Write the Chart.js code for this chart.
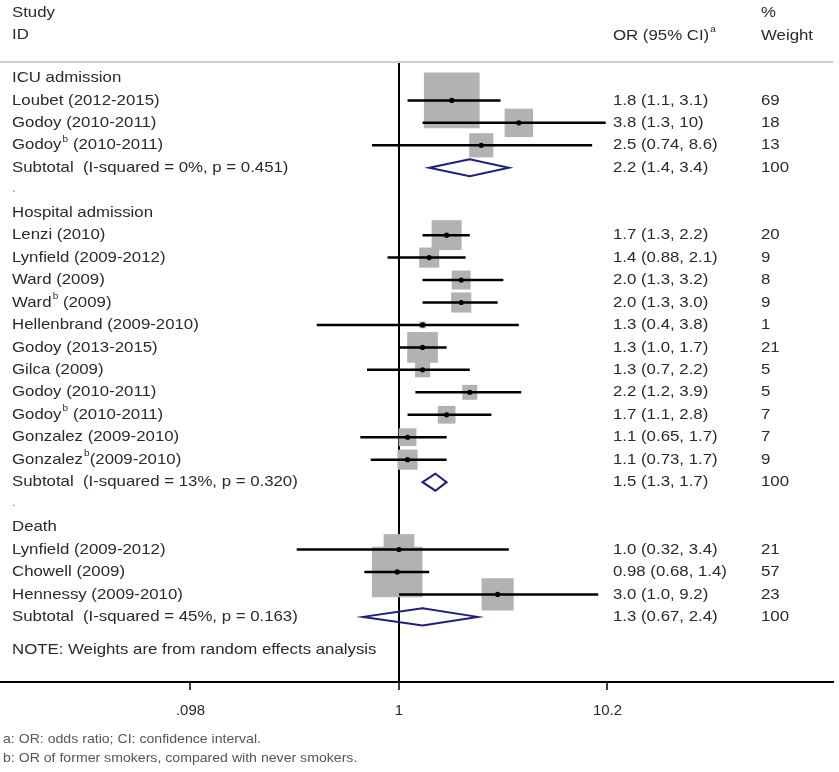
<!DOCTYPE html>
<html>
<head>
<meta charset="utf-8">
<script src="https://cdn.jsdelivr.net/npm/chart.js@4"></script>
<style>
  html, body { margin: 0; padding: 0; background: #fff; }
</style>
</head>
<body>
<canvas id="c" width="839" height="772"></canvas>
<script>
// subgroups
const groups = ['ICU admission', 'Hospital admission', 'Death'];
const subtotalStats = ['I-squared = 0%, p = 0.451', 'I-squared = 13%, p = 0.320', 'I-squared = 45%, p = 0.163'];
const subOr = [2.2, 1.5, 1.3];
const subLo = [1.4, 1.3, 0.67];
const subHi = [3.4, 1.7, 2.4];

// studies (^b = superscript b)
const studies = [
  'Loubet (2012-2015)', 'Godoy (2010-2011)', 'Godoy^b (2010-2011)',
  'Lenzi (2010)', 'Lynfield (2009-2012)', 'Ward (2009)', 'Ward^b (2009)',
  'Hellenbrand (2009-2010)', 'Godoy (2013-2015)', 'Gilca (2009)',
  'Godoy (2010-2011)', 'Godoy^b (2010-2011)', 'Gonzalez (2009-2010)', 'Gonzalez^b(2009-2010)',
  'Lynfield (2009-2012)', 'Chowell (2009)', 'Hennessy (2009-2010)'
];
const studyGroup = [0, 0, 0, 1, 1, 1, 1, 1, 1, 1, 1, 1, 1, 1, 2, 2, 2];
const orValues = [1.8, 3.8, 2.5, 1.7, 1.4, 2.0, 2.0, 1.3, 1.3, 1.3, 2.2, 1.7, 1.1, 1.1, 1.0, 0.98, 3.0];
const ciLow = [1.1, 1.3, 0.74, 1.3, 0.88, 1.3, 1.3, 0.4, 1.0, 0.7, 1.2, 1.1, 0.65, 0.73, 0.32, 0.68, 1.0];
const ciHigh = [3.1, 10, 8.6, 2.2, 2.1, 3.2, 3.0, 3.8, 1.7, 2.2, 3.9, 2.8, 1.7, 1.7, 3.4, 1.4, 9.2];
const weights = [69, 18, 13, 20, 9, 8, 9, 1, 21, 5, 5, 7, 7, 9, 21, 57, 23];

const xTicks = [0.098, 1, 10.2];
const xTickLabels = ['.098', '1', '10.2'];

const FONT = '"Liberation Sans", Arial, sans-serif';
const TXT = '#2a2a2a';
const STRETCH = 1.12; // text in the picture is a bit wide

// row layout
const rows = [];
const studyRow = [];
const subRow = [];
let r = 0;
groups.forEach((g, gi) => {
  rows.push({ kind: 'head', text: g, row: r++ });
  studies.forEach((s, i) => {
    if (studyGroup[i] === gi) { studyRow[i] = r; rows.push({ kind: 'study', i, row: r++ }); }
  });
  subRow[gi] = r;
  rows.push({ kind: 'sub', gi, row: r++ });
  if (gi < groups.length - 1) rows.push({ kind: 'blank', row: r++ });
});
const noteRow = r + 0.45;

const fmt = v => (v < 1 || v >= 10) ? String(v) : v.toFixed(1);

const ciData = [];
studies.forEach((s, i) => {
  ciData.push({ x: ciLow[i], y: studyRow[i] }, { x: ciHigh[i], y: studyRow[i] }, { x: null, y: null });
});
const diamondData = [];
groups.forEach((g, gi) => {
  const y = subRow[gi];
  diamondData.push(
    { x: subLo[gi], y }, { x: subOr[gi], y: y - 0.38 }, { x: subHi[gi], y },
    { x: subOr[gi], y: y + 0.38 }, { x: subLo[gi], y }, { x: subOr[gi], y: y - 0.38 },
    { x: null, y: null });
});

function drawRich(ctx, text, x, y, size) {
  const parts = text.split(/\^(\w)/);
  ctx.save();
  ctx.translate(x, y);
  ctx.scale(STRETCH, 1);
  let cx = 0;
  parts.forEach((p, k) => {
    if (k % 2 === 1) {
      ctx.font = (size * 0.6) + 'px ' + FONT;
      ctx.fillText(p, cx + 1, -size * 0.4);
      cx += ctx.measureText(p).width + 1;
    } else {
      ctx.font = size + 'px ' + FONT;
      ctx.fillText(p, cx, 0);
      cx += ctx.measureText(p).width;
    }
  });
  ctx.restore();
}

const textPlugin = {
  id: 'forestText',
  afterDraw(chart) {
    const ctx = chart.ctx;
    const ys = chart.scales.y;
    const area = chart.chartArea;
    ctx.save();
    // header line
    ctx.strokeStyle = '#cfcfcf';
    ctx.lineWidth = 2;
    ctx.beginPath();
    ctx.moveTo(0, area.top);
    ctx.lineTo(area.right, area.top);
    ctx.stroke();

    ctx.fillStyle = TXT;
    ctx.textBaseline = 'middle';
    ctx.textAlign = 'left';
    const sz = 15;
    drawRich(ctx, 'Study', 12, 13, sz);
    drawRich(ctx, 'ID', 12, 35, sz);
    drawRich(ctx, 'OR (95% CI)^a', 613, 36, sz);
    drawRich(ctx, '%', 761, 13, sz);
    drawRich(ctx, 'Weight', 761, 36, sz);

    rows.forEach(row => {
      const y = ys.getPixelForValue(row.row);
      if (row.kind === 'head') {
        drawRich(ctx, row.text, 12, y, sz);
      } else if (row.kind === 'study') {
        const i = row.i;
        drawRich(ctx, studies[i], 12, y, sz);
        drawRich(ctx, fmt(orValues[i]) + ' (' + fmt(ciLow[i]) + ', ' + fmt(ciHigh[i]) + ')', 613, y, sz);
        drawRich(ctx, String(weights[i]), 761, y, sz);
      } else if (row.kind === 'sub') {
        const gi = row.gi;
        drawRich(ctx, 'Subtotal  (' + subtotalStats[gi] + ')', 12, y, sz);
        drawRich(ctx, fmt(subOr[gi]) + ' (' + fmt(subLo[gi]) + ', ' + fmt(subHi[gi]) + ')', 613, y, sz);
        drawRich(ctx, '100', 761, y, sz);
      } else {
        ctx.fillStyle = '#888';
        drawRich(ctx, '.', 12, y - 2, 12);
        ctx.fillStyle = TXT;
      }
    });
    drawRich(ctx, 'NOTE: Weights are from random effects analysis', 12, ys.getPixelForValue(noteRow), sz);

    ctx.fillStyle = '#555';
    drawRich(ctx, 'a: OR: odds ratio; CI: confidence interval.', 3, 740, 12.6);
    drawRich(ctx, 'b: OR of former smokers, compared with never smokers.', 3, 759, 12.6);
    ctx.restore();
  }
};

new Chart(document.getElementById('c'), {
  type: 'scatter',
  data: {
    datasets: [
      {
        label: 'weight',
        data: studies.map((s, i) => ({ x: orValues[i], y: studyRow[i] })),
        pointStyle: 'rect',
        pointRadius: weights.map(w => 4.74 * Math.sqrt(w)),
        backgroundColor: '#b2b2b2',
        borderWidth: 0,
        order: 4
      },
      {
        label: 'ci',
        type: 'line',
        data: ciData,
        borderColor: '#000',
        borderWidth: 2.5,
        pointRadius: 0,
        spanGaps: false,
        order: 3
      },
      {
        label: 'subtotal',
        type: 'line',
        data: diamondData,
        borderColor: '#1f1f7a',
        borderWidth: 2,
        borderJoinStyle: 'miter',
        pointRadius: 0,
        fill: false,
        spanGaps: false,
        order: 2
      },
      {
        label: 'or',
        data: studies.map((s, i) => ({ x: orValues[i], y: studyRow[i] })),
        pointStyle: 'circle',
        pointRadius: 2.6,
        backgroundColor: '#000',
        borderWidth: 0,
        order: 1
      }
    ]
  },
  options: {
    responsive: false,
    devicePixelRatio: 1,
    animation: false,
    layout: { autoPadding: false, padding: { top: 62, left: 0, right: 6, bottom: 0 } },
    plugins: { legend: { display: false }, tooltip: { enabled: false } },
    scales: {
      x: {
        type: 'logarithmic',
        min: 0.01174,
        max: 125.8,
        afterBuildTicks: s => { s.ticks = xTicks.map(v => ({ value: v })); },
        afterFit: s => { s.height = 90; s.paddingLeft = 0; s.paddingRight = 0; },
        ticks: {
          callback: v => xTickLabels[xTicks.indexOf(v)],
          autoSkip: false,
          maxRotation: 0,
          padding: 12,
          color: TXT,
          font: { size: 15, family: FONT }
        },
        grid: {
          drawOnChartArea: true,
          color: c => (c.tick && c.tick.value === 1) ? '#000' : 'rgba(0,0,0,0)',
          lineWidth: 2,
          tickColor: '#000',
          tickLength: 8,
          tickWidth: 1.5
        },
        border: { display: true, color: '#000', width: 2 }
      },
      y: {
        type: 'linear',
        display: false,
        reverse: true,
        min: -0.71,
        max: 26.9
      }
    }
  },
  plugins: [textPlugin]
});
</script>
</body>
</html>
